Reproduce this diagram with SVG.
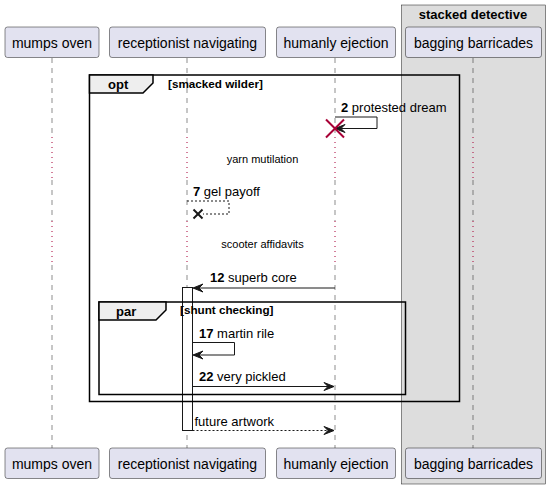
<svg xmlns="http://www.w3.org/2000/svg" width="550" height="489" viewBox="0 0 550 489">
<style>
text{font-family:"Liberation Sans",Arial,sans-serif;fill:#000}
.p{fill:#E2E2F0;stroke:#181818;stroke-width:0.5}
.pt{font-size:14px;text-anchor:middle}
.life{stroke:#181818;stroke-width:0.5;stroke-dasharray:5,5}
.delay{stroke:#A80036;stroke-width:1;stroke-dasharray:1,4}
.msg{stroke:#181818;stroke-width:1;fill:none}
.dash{stroke-dasharray:2,2}
.ah{fill:#181818;stroke:#181818;stroke-width:1}
.mt{font-size:13px}
.frame{fill:none;stroke:#000;stroke-width:1.5}
.tab{fill:#EEEEEE;stroke:#000;stroke-width:1.5}
.ft{font-size:13px;font-weight:bold}
.fc{font-size:11.7px;font-weight:bold}
.dt{font-size:11px;text-anchor:middle}
</style>
<g id="box-stacked-detective">
<rect x="401.5" y="5" width="144" height="479" fill="#DDDDDD" stroke="#181818" stroke-width="0.5"/>
<text x="473" y="19" class="ft" text-anchor="middle">stacked detective</text>
</g>
<g id="lifelines">
<line x1="52" y1="58" x2="52" y2="137" class="life"/>
<line x1="52" y1="137" x2="52" y2="180" class="delay"/>
<line x1="52" y1="180" x2="52" y2="221" class="life"/>
<line x1="52" y1="221" x2="52" y2="265" class="delay"/>
<line x1="52" y1="265" x2="52" y2="448" class="life"/>
<line x1="187" y1="58" x2="187" y2="137" class="life"/>
<line x1="187" y1="137" x2="187" y2="180" class="delay"/>
<line x1="187" y1="180" x2="187" y2="221" class="life"/>
<line x1="187" y1="221" x2="187" y2="265" class="delay"/>
<line x1="187" y1="265" x2="187" y2="448" class="life"/>
<line x1="335" y1="58" x2="335" y2="137" class="life"/>
<line x1="335" y1="137" x2="335" y2="180" class="delay"/>
<line x1="335" y1="180" x2="335" y2="221" class="life"/>
<line x1="335" y1="221" x2="335" y2="265" class="delay"/>
<line x1="335" y1="265" x2="335" y2="448" class="life"/>
<line x1="473" y1="58" x2="473" y2="137" class="life"/>
<line x1="473" y1="137" x2="473" y2="180" class="delay"/>
<line x1="473" y1="180" x2="473" y2="221" class="life"/>
<line x1="473" y1="221" x2="473" y2="265" class="delay"/>
<line x1="473" y1="265" x2="473" y2="448" class="life"/>
</g>
<g id="p-mumps-oven">
<rect x="5" y="27" width="94" height="30.5" rx="2.5" class="p"/>
<text x="52" y="47.5" class="pt">mumps oven</text>
<rect x="5" y="448" width="94" height="30.5" rx="2.5" class="p"/>
<text x="52" y="468.5" class="pt">mumps oven</text>
</g>
<g id="p-receptionist-navigating">
<rect x="109.5" y="27" width="156" height="30.5" rx="2.5" class="p"/>
<text x="187.5" y="47.5" class="pt">receptionist navigating</text>
<rect x="109.5" y="448" width="156" height="30.5" rx="2.5" class="p"/>
<text x="187.5" y="468.5" class="pt">receptionist navigating</text>
</g>
<g id="p-humanly-ejection">
<rect x="276.5" y="27" width="119" height="30.5" rx="2.5" class="p"/>
<text x="336" y="47.5" class="pt">humanly ejection</text>
<rect x="276.5" y="448" width="119" height="30.5" rx="2.5" class="p"/>
<text x="336" y="468.5" class="pt">humanly ejection</text>
</g>
<g id="p-bagging-barricades">
<rect x="405.5" y="27" width="136" height="30.5" rx="2.5" class="p"/>
<text x="473.5" y="47.5" class="pt">bagging barricades</text>
<rect x="405.5" y="448" width="136" height="30.5" rx="2.5" class="p"/>
<text x="473.5" y="468.5" class="pt">bagging barricades</text>
</g>
<g id="activation">
<rect x="182.5" y="287.5" width="10" height="143" fill="#FFFFFF" stroke="#181818" stroke-width="1"/>
</g>
<g id="frame-opt">
<rect x="89.5" y="75" width="370" height="326.5" class="frame"/>
<polygon points="89.5,75 153,75 153,83 143,93 89.5,93" class="tab"/>
<text x="108" y="89" class="ft">opt</text>
<text x="168" y="88" class="fc">[smacked wilder]</text>
</g>
<g id="frame-par">
<rect x="99" y="302" width="306.5" height="92.5" class="frame"/>
<polygon points="99,302 166,302 166,310 156,320 99,320" class="tab"/>
<text x="116" y="316" class="ft">par</text>
<text x="180" y="314" class="fc">[shunt checking]</text>
</g>
<g id="connectors">
<polyline points="335,117 377,117 377,128.5 336,128.5" class="msg"/>
<polygon points="335,128.5 345,124.5 341,128.5 345,132.5" class="ah"/>
<line x1="326" y1="119.5" x2="344" y2="137.5" stroke="#A80036" stroke-width="2"/>
<line x1="344" y1="119.5" x2="326" y2="137.5" stroke="#A80036" stroke-width="2"/>
<text x="341" y="111.5" class="mt"><tspan font-weight="bold">2</tspan> protested dream</text>
<text x="262.5" y="163" class="dt">yarn mutilation</text>
<polyline points="187,201 229,201 229,214 203,214" class="msg dash"/>
<line x1="193.5" y1="209.5" x2="202.5" y2="218.5" stroke="#181818" stroke-width="2"/>
<line x1="202.5" y1="209.5" x2="193.5" y2="218.5" stroke="#181818" stroke-width="2"/>
<text x="193" y="196" class="mt"><tspan font-weight="bold">7</tspan> gel payoff</text>
<text x="262.5" y="247.5" class="dt">scooter affidavits</text>
<line x1="335" y1="288" x2="194" y2="288" class="msg"/>
<polygon points="193,288 203,284 199,288 203,292" class="ah"/>
<text x="210" y="282" class="mt"><tspan font-weight="bold">12</tspan> superb core</text>
<polyline points="192.5,342.5 234.5,342.5 234.5,355 194,355" class="msg"/>
<polygon points="193,355 203,351 199,355 203,359" class="ah"/>
<text x="199" y="337.5" class="mt"><tspan font-weight="bold">17</tspan> martin rile</text>
<line x1="192.5" y1="386.5" x2="333" y2="386.5" class="msg"/>
<polygon points="334,386.5 324,382.5 328,386.5 324,390.5" class="ah"/>
<text x="199" y="381" class="mt"><tspan font-weight="bold">22</tspan> very pickled</text>
<line x1="192.5" y1="430.5" x2="333" y2="430.5" class="msg dash"/>
<polygon points="334,430.5 324,426.5 328,430.5 324,434.5" class="ah"/>
<text x="194.5" y="426" class="mt">future artwork</text>
</g>
</svg>
